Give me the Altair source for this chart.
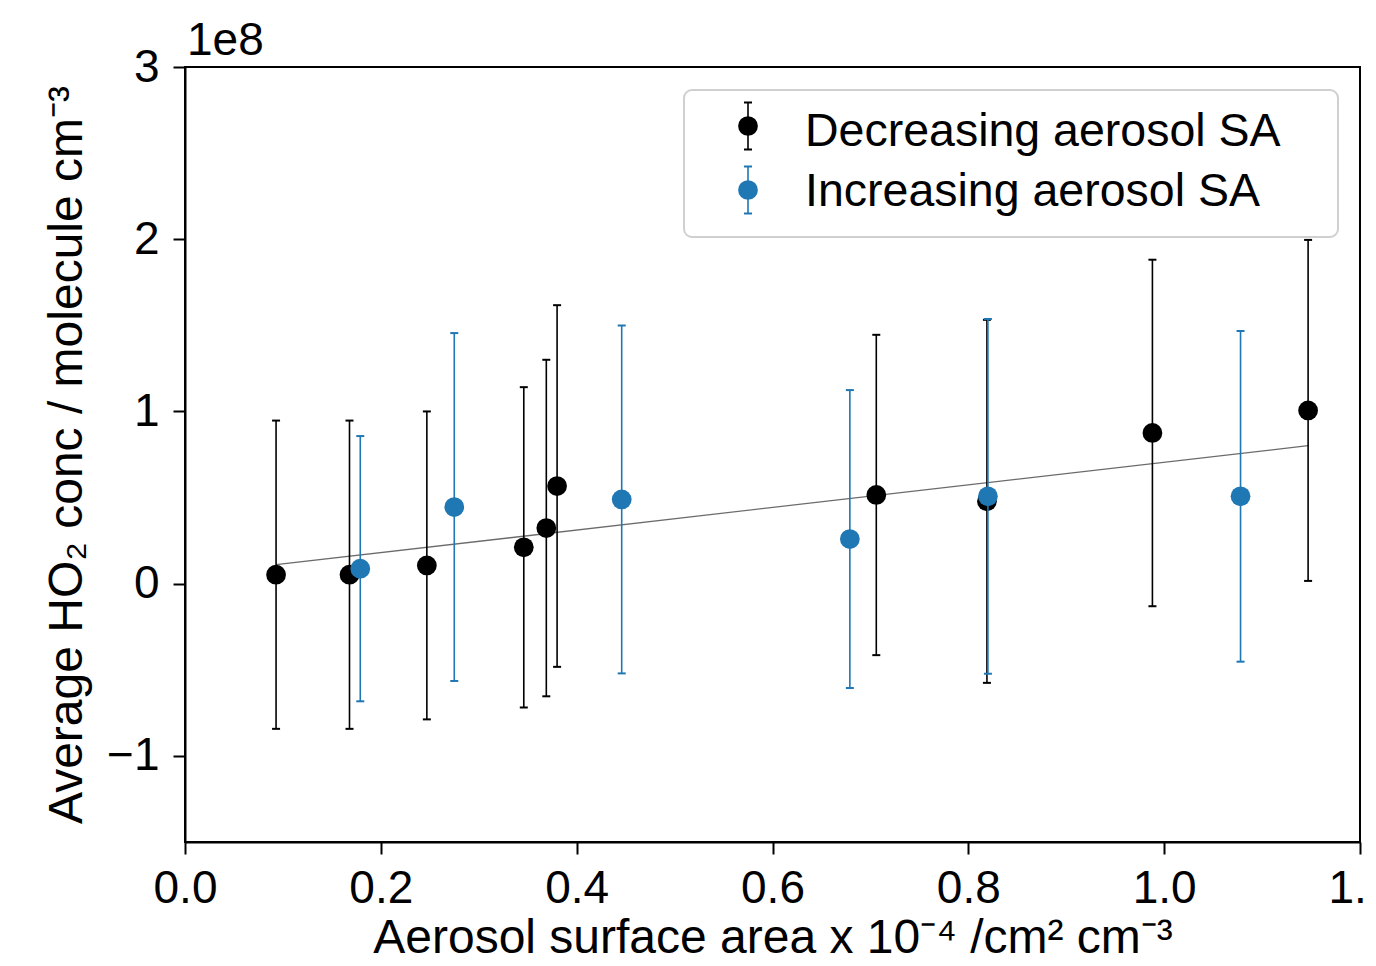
import altair as alt
import pandas as pd

# ---- data (HO2 values in units of 1e8 molecule cm^-3) ----
series_names = ["Decreasing aerosol SA", "Increasing aerosol SA"]
series_colors = ["#000000", "#1f77b4"]

dec_x = [0.093, 0.168, 0.247, 0.346, 0.369, 0.380, 0.706, 0.819, 0.988, 1.147]
dec_y = [0.052, 0.052, 0.106, 0.211, 0.323, 0.567, 0.515, 0.478, 0.875, 1.006]
dec_err = [0.895, 0.895, 0.894, 0.930, 0.977, 1.050, 0.930, 1.054, 1.006, 0.990]

inc_x = [0.179, 0.275, 0.446, 0.679, 0.820, 1.078]
inc_y = [0.087, 0.445, 0.489, 0.259, 0.507, 0.507]
inc_err = [0.770, 1.010, 1.010, 0.865, 1.030, 0.960]

fit_x = [0.093, 1.147]
fit_y = [0.110, 0.801]

x_ticks = [0.0, 0.2, 0.4, 0.6, 0.8, 1.0, 1.2]
y_ticks = [-1, 0, 1, 2, 3]

FONT = "Liberation Sans"
W, H = 1175, 775

def make_df(xs, ys, es):
    df = pd.DataFrame({"x": xs, "y": ys, "err": es})
    df["ylo"] = df["y"] - df["err"]
    df["yhi"] = df["y"] + df["err"]
    return df

x_enc = alt.X(
    "x:Q",
    scale=alt.Scale(domain=[0, 1.2], nice=False, zero=False),
    axis=alt.Axis(
        values=x_ticks, format=".1f", grid=False, labelFlush=False,
        labelFontSize=46, labelFont=FONT, labelColor="black", labelPadding=12,
        tickSize=12, tickWidth=2, tickColor="black",
        domainColor="black", domainWidth=2,
        title="Aerosol surface area x 10\u207b\u2074 /cm\u00b2 cm\u207b\u00b3",
        titleFontSize=48, titleFont=FONT, titleFontWeight="normal",
        titleColor="black", titlePadding=3,
    ),
)

def y_enc(field):
    return alt.Y(
        f"{field}:Q",
        scale=alt.Scale(domain=[-1.5, 3], nice=False, zero=False),
        axis=alt.Axis(
            values=y_ticks, format="d", grid=False, labelFlush=False,
            labelFontSize=46, labelFont=FONT, labelColor="black", labelPadding=14,
            tickSize=12, tickWidth=2, tickColor="black",
            domainColor="black", domainWidth=2,
            title="Average HO\u2082 conc / molecule cm\u207b\u00b3",
            titleFontSize=48, titleFont=FONT, titleFontWeight="normal",
            titleColor="black", titlePadding=15,
        ),
    )

layers = []
fit_df = pd.DataFrame({"x": fit_x, "y": fit_y})
layers.append(
    alt.Chart(fit_df).mark_line(color="#6b6b6b", strokeWidth=1.3).encode(x=x_enc, y=y_enc("y"))
)

for df, color in [(make_df(dec_x, dec_y, dec_err), series_colors[0]),
                  (make_df(inc_x, inc_y, inc_err), series_colors[1])]:
    base = alt.Chart(df)
    layers.append(base.mark_rule(color=color, strokeWidth=1.6).encode(
        x=x_enc, y=y_enc("ylo"), y2="yhi:Q"))
    for f in ["ylo", "yhi"]:
        layers.append(base.mark_rule(color=color, strokeWidth=2, xOffset=-4, x2Offset=4).encode(
            x=x_enc, x2="x:Q", y=y_enc(f)))
    layers.append(base.mark_circle(color=color, size=390, opacity=1).encode(
        x=x_enc, y=y_enc("y")))

# ---- legend (drawn manually to show error-bar glyphs) ----
box = alt.Chart(pd.DataFrame({"a": [0]})).mark_rect(
    fill="white", stroke="#d0d0d0", strokeWidth=2, cornerRadius=8
).encode(x=alt.value(499), x2=alt.value(1153), y=alt.value(23), y2=alt.value(170))
layers.append(box)

row_centers = [59, 123]
row_baselines = [79, 139]
for name, color, cy, by in zip(series_names, series_colors, row_centers, row_baselines):
    ld = pd.DataFrame({"label": [name]})
    lc = alt.Chart(ld)
    layers.append(lc.mark_rule(color=color, strokeWidth=1.6).encode(
        x=alt.value(563), y=alt.value(cy - 23.5), y2=alt.value(cy + 23.5)))
    for dy in (-23.5, 23.5):
        layers.append(lc.mark_rule(color=color, strokeWidth=2).encode(
            x=alt.value(559), x2=alt.value(567), y=alt.value(cy + dy)))
    layers.append(lc.mark_circle(color=color, size=390, opacity=1).encode(
        x=alt.value(563), y=alt.value(cy)))
    layers.append(lc.mark_text(align="left", baseline="alphabetic", font=FONT,
                               fontSize=46.5, color="black").encode(
        x=alt.value(620), y=alt.value(by), text="label:N"))

# "1e8" offset label
layers.append(alt.Chart(pd.DataFrame({"t": ["1e8"]})).mark_text(
    align="left", baseline="alphabetic", font=FONT, fontSize=46, color="black"
).encode(x=alt.value(2), y=alt.value(-12), text="t:N"))

chart = alt.layer(*layers).properties(
    width=W, height=H,
    autosize=alt.AutoSizeParams(type="none"),
    padding={"left": 177, "top": 59, "right": 8, "bottom": 116},
    background="white",
).configure_view(stroke="black", strokeWidth=2)

chart.save("out.html", embed_options={"renderer": "svg", "actions": False})
